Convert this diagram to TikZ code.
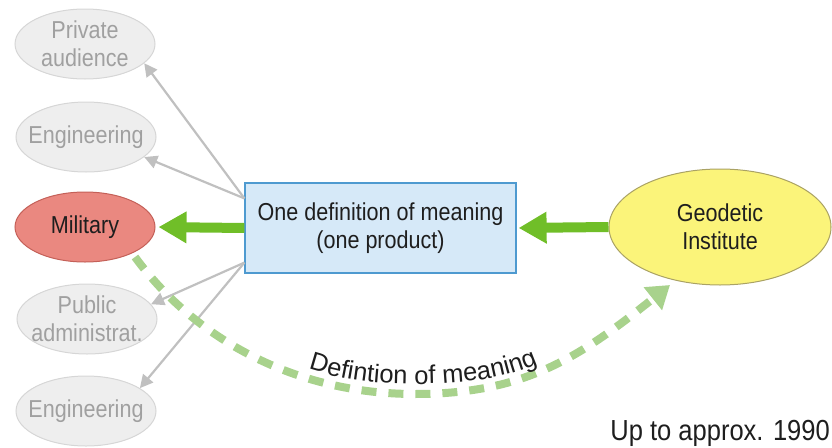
\documentclass[tikz,border=0pt]{standalone}
\usepackage{fontspec}
\setmainfont{Liberation Sans}[FakeStretch=0.88]
\newfontfamily\arcfont{Liberation Sans}
\usetikzlibrary{arrows.meta,decorations.text,shapes.geometric}

\definecolor{greyfill}{RGB}{238,238,238}
\definecolor{greyline}{RGB}{214,214,214}
\definecolor{greytext}{RGB}{160,160,160}
\definecolor{greyarrow}{RGB}{192,192,192}
\definecolor{milfill}{RGB}{234,136,128}
\definecolor{milline}{RGB}{196,96,88}
\definecolor{geofill}{RGB}{251,244,122}
\definecolor{geoline}{RGB}{170,162,100}
\definecolor{boxfill}{RGB}{214,233,248}
\definecolor{boxline}{RGB}{78,154,208}
\definecolor{flowgreen}{RGB}{112,190,40}
\definecolor{palegreen}{RGB}{168,210,140}
\definecolor{ink}{RGB}{30,30,30}

\newcommand{\mainsize}{\fontsize{24.5}{28}\selectfont}
\newcommand{\curvesize}{\arcfont\fontsize{25.5}{30}\selectfont}

\tikzset{
  audience/.style={ellipse, draw=greyline, fill=greyfill, line width=1pt,
    minimum width=140pt, minimum height=70pt, inner sep=0pt},
  audlabel/.style={align=center, text=greytext, font=\mainsize},
  milnode/.style={ellipse, draw=milline, fill=milfill, line width=1pt,
    minimum width=140pt, minimum height=70pt, inner sep=0pt,
    font=\mainsize, text=ink},
  geonode/.style={ellipse, draw=geoline, fill=geofill, line width=1pt,
    minimum width=222pt, minimum height=116pt, inner sep=0pt,
    align=center, font=\mainsize, text=ink},
  meaningbox/.style={rectangle, draw=boxline, fill=boxfill, line width=1.2pt,
    minimum width=271pt, minimum height=90pt, inner sep=0pt,
    align=center, font=\mainsize, text=ink},
  mainflow/.style={draw=flowgreen, line width=10pt,
    -{Triangle[length=28pt,width=30pt]}},
  sideflow/.style={draw=greyarrow, line width=2.2pt,
    -{Triangle[length=13pt,width=13pt]}},
  backflow/.style={draw=palegreen, line width=8pt, dash pattern=on 15pt off 12pt,
    -{Triangle[length=22pt,width=28pt]}}
}

\begin{document}
\begin{tikzpicture}[x=1pt,y=-1pt]
\useasboundingbox (0,0) rectangle (832,447);

% audiences on the left
\node[audience, label={[audlabel]center:Private\\audience}] (priv) at (85,44) {};
\node[audience, label={[audlabel]center:Engineering}] (engtop) at (86,137) {};
\node[milnode] (mil) at (85,227) {Military};
\node[audience, label={[audlabel]center:Public\\administrat.}] (pub) at (87,319) {};
\node[audience, label={[audlabel]center:Engineering}] (engbot) at (86,411) {};

% the single definition and its producer
\node[meaningbox] (box) at (380.5,228) {One definition of meaning\\(one product)};
\node[geonode] (geo) at (720,227) {Geodetic\\Institute};

% outlet points on the left side of the box
\coordinate (gu) at ([yshift=-16pt]box.north west);
\coordinate (gl) at ([yshift=11pt]box.south west);

% grey distribution arrows
\draw[sideflow] (gu) -- (priv.-18);
\draw[sideflow] (gu) -- (engtop.-19);
\draw[sideflow] (gl) -- (pub.13);
\draw[sideflow] (gl) -- (engbot.23);

% main flow
\draw[mainflow, shorten >=2pt] (geo.west) -- (box.east);
\draw[mainflow, shorten >=3pt] (box.west) -- (mil.east);

% feedback from the military to the institute
\coordinate (fbstart) at (135,257);
\coordinate (fbend) at (670,285);
\draw[backflow] (fbstart) .. controls (195,339) and (295,394) .. (415,394)
  .. controls (525,394) and (580,357) .. (fbend);

% curved caption above the feedback line
\path[decorate, decoration={text along path,
    text={|\curvesize\color{ink}|Defintion of meaning},
    text align={center}}]
  (300,366) .. controls (345,382) and (380,384) .. (420,384)
  .. controls (470,384) and (512,377) .. (546,360);

% date note
\node[anchor=base east, font=\fontsize{29}{34}\selectfont, text=ink, inner sep=0pt]
  (date) at (830,440) {Up to approx. 1990};
\end{tikzpicture}
\end{document}
